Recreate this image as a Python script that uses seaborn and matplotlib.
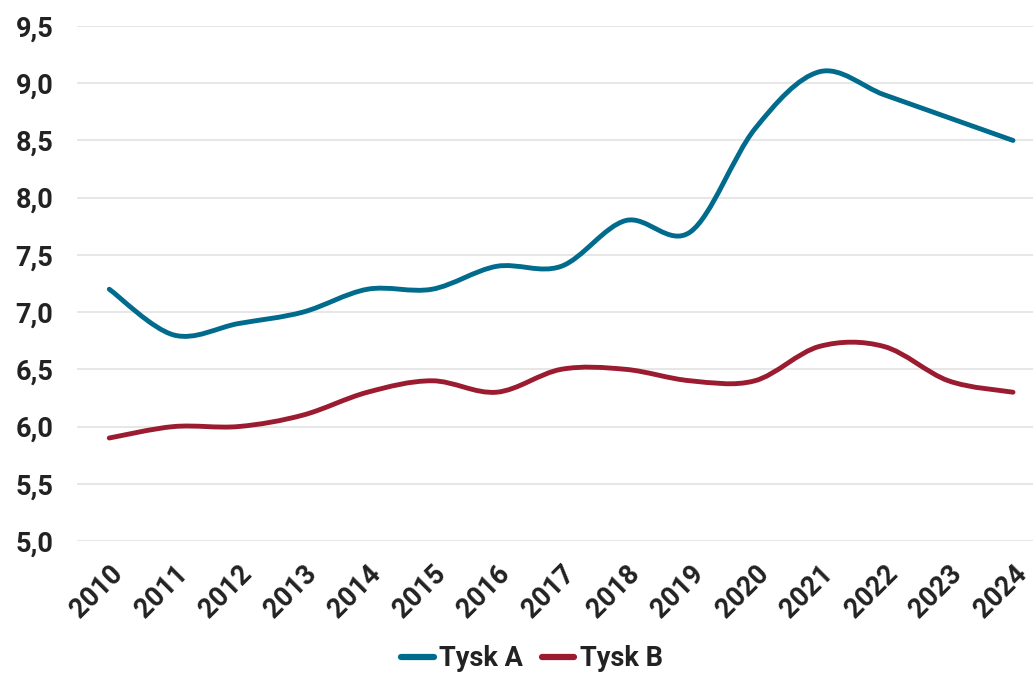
import numpy as np
import pandas as pd
import seaborn as sns
import matplotlib
matplotlib.use("Agg")
import matplotlib.pyplot as plt
from matplotlib.path import Path
from matplotlib.patches import PathPatch

years = [str(y) for y in range(2010, 2025)]
tysk_a = [7.2, 6.8, 6.9, 7.0, 7.2, 7.2, 7.4, 7.4, 7.8, 7.7, 8.6, 9.1, 8.9, 8.7, 8.5]
tysk_b = [5.9, 6.0, 6.0, 6.1, 6.3, 6.4, 6.3, 6.5, 6.5, 6.4, 6.4, 6.7, 6.7, 6.4, 6.3]
series_names = ["Tysk A", "Tysk B"]
colors = ["#006B8D", "#9B1B30"]
y_ticks = [5.0, 5.5, 6.0, 6.5, 7.0, 7.5, 8.0, 8.5, 9.0, 9.5]

sns.set_theme(style="white")
plt.rcParams['font.family'] = ['Roboto', 'DejaVu Sans']
plt.rcParams['font.weight'] = 'bold'

df = pd.DataFrame({
    "year": years * 2,
    "value": tysk_a + tysk_b,
    "series": [series_names[0]] * len(years) + [series_names[1]] * len(years),
})
df["x"] = list(range(len(years))) * 2

fig = plt.figure(figsize=(10.33, 6.75), dpi=100)
ax = fig.add_axes([77 / 1033, (675 - 541) / 675, (1033 - 77) / 1033, (541 - 26) / 675])

sns.lineplot(data=df, x="x", y="value", hue="series", palette=colors,
             linewidth=3.5, ax=ax, legend=True)

def smooth_path(xs, ys):
    pts = np.column_stack([xs, ys]).astype(float)
    n = len(pts)
    verts = [pts[0]]
    codes = [Path.MOVETO]
    for i in range(n - 1):
        p0 = pts[i - 1] if i > 0 else pts[i]
        p1 = pts[i]
        p2 = pts[i + 1]
        p3 = pts[i + 2] if i + 2 < n else pts[i + 1]
        c1 = p1 + (p2 - p0) / 6.0
        c2 = p2 - (p3 - p1) / 6.0
        verts += [c1, c2, p2]
        codes += [Path.CURVE4] * 3
    return Path(verts, codes)

handles, labels = ax.get_legend_handles_labels()
for h in handles:
    h.set_linewidth(4.5)
    h.set_solid_capstyle('round')
leg = ax.legend(handles, labels, loc="upper center", bbox_to_anchor=(0.476, -0.155),
                ncol=2, frameon=False, fontsize=19.5, handlelength=1.2,
                handletextpad=0.2, columnspacing=0.7)
for t in leg.get_texts():
    t.set_color("#222222")
    t.set_fontweight("bold")

for line in list(ax.lines):
    line.set_visible(False)

xs = np.arange(len(years))
for vals, c in zip([tysk_a, tysk_b], colors):
    patch = PathPatch(smooth_path(xs, vals), facecolor="none", edgecolor=c,
                      linewidth=3.5, capstyle="round", joinstyle="round", zorder=3)
    patch.set_clip_on(False)
    ax.add_patch(patch)

ax.set_xlim(-0.5, (1033 - 109) / 64.571)
ax.set_ylim(5.0, 9.5)
ax.set_yticks(y_ticks)
ax.set_yticklabels([f"{v:.1f}".replace(".", ",") for v in y_ticks],
                   fontsize=19.5, fontweight="bold", color="#222222")
ax.set_xticks(xs)
ax.set_xticklabels(years, rotation=45, ha="right", rotation_mode="anchor",
                   fontsize=19.5, fontweight="bold", color="#222222")
ax.tick_params(axis="y", length=0, pad=17)
ax.tick_params(axis="x", length=0, pad=14)
ax.set_xlabel("")
ax.set_ylabel("")
ax.grid(axis="y", color="#e3e3e3", linewidth=1.2)
ax.set_axisbelow(True)
for s in ax.spines.values():
    s.set_visible(False)

fig.savefig("out.png", dpi=100)
